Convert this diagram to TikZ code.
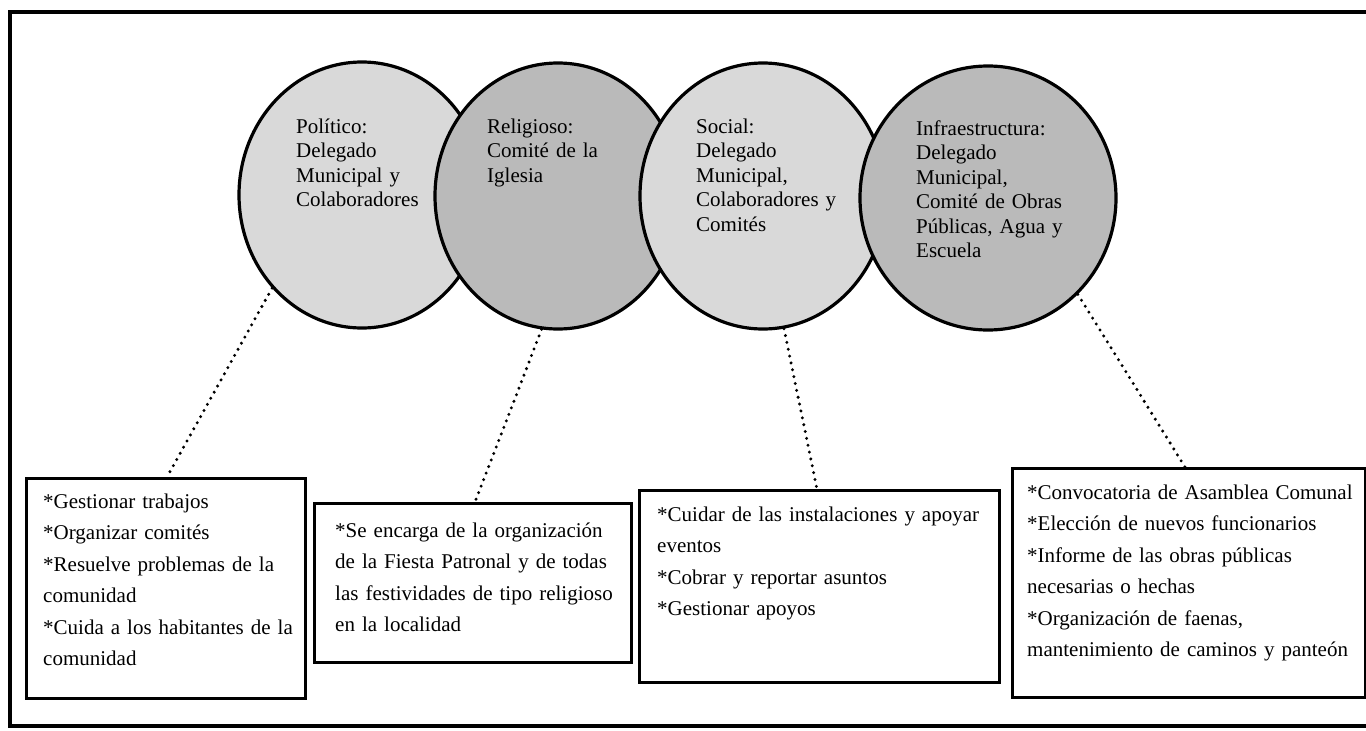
\documentclass[tikz,border=0pt]{standalone}
\usepackage{fontspec}
\setmainfont{Liberation Serif}
\usetikzlibrary{shapes.geometric,calc}
\definecolor{lightg}{gray}{0.85}
\definecolor{darkg}{gray}{0.73}
\tikzset{
  circ/.style={ellipse, draw=black, line width=3.2pt, minimum width=246pt, minimum height=266pt, inner sep=0pt},
  ctext/.style={anchor=base west, align=left, text width=220pt, inner sep=0pt, font=\fontsize{21}{24.5}\selectfont},
  boxs/.style={rectangle, draw=black, line width=2.8pt, anchor=north west, inner sep=0pt},
  btext/.style={anchor=base west, align=left, text width=360pt, inner sep=0pt, font=\fontsize{21}{31.5}\selectfont},
  dotline/.style={line width=3.3pt, line cap=round, dash pattern=on 0pt off 7pt},
  frame/.style={line width=3.2pt}
}
\begin{document}
\begin{tikzpicture}[x=1pt,y=-1pt]
\useasboundingbox (0,0) rectangle (1366,731);
\fill[white] (0,0) rectangle (1366,731);
\draw[frame] (10,12) rectangle (1380,726);
% circles
\node[circ, fill=lightg] (c1) at (362,195) {};
\node[circ, fill=darkg] (c2) at (558,196) {};
\node[circ, fill=lightg] (c3) at (763,196) {};
\node[circ, fill=darkg, minimum width=256pt, minimum height=264pt] (c4) at (988,198) {};
% circle texts
\node[ctext] (t1) at (296,133) {Político:\\Delegado\\Municipal y\\Colaboradores};
\node[ctext] (t2) at (487,133) {Religioso:\\Comité de la\\Iglesia};
\node[ctext] (t3) at (696,133) {Social:\\Delegado\\Municipal,\\Colaboradores y\\Comités};
\node[ctext] (t4) at (916,135) {Infraestructura:\\Delegado\\Municipal,\\Comité de Obras\\Públicas, Agua y\\Escuela};
% boxes
\node[boxs, minimum width=279pt, minimum height=220pt] (b1) at (25,477) {};
\node[boxs, minimum width=317pt, minimum height=159pt] (b2) at (313,502) {};
\node[boxs, minimum width=360pt, minimum height=192pt] (b3) at (638,489) {};
\node[boxs, minimum width=353pt, minimum height=229pt] (b4) at (1011,467) {};
% box texts
\node[btext] (bt1) at (43,508) {*Gestionar trabajos\\{}*Organizar comités\\{}*Resuelve problemas de la\\comunidad\\{}*Cuida a los habitantes de la\\comunidad};
\node[btext] (bt2) at (335,537) {*Se encarga de la organización\\de la Fiesta Patronal y de todas\\las festividades de tipo religioso\\en la localidad};
\node[btext] (bt3) at (657,521) {*Cuidar de las instalaciones y apoyar\\eventos\\{}*Cobrar y reportar asuntos\\{}*Gestionar apoyos};
\node[btext] (bt4) at (1027,499) {*Convocatoria de Asamblea Comunal\\{}*Elección de nuevos funcionarios\\{}*Informe de las obras públicas\\necesarias o hechas\\{}*Organización de faenas,\\mantenimiento de caminos y panteón};
% connectors
\draw[dotline] (c1.226.5) -- ($(b1.north west)+(142,0)$);
\draw[dotline] (c2.263) -- ($(b2.north west)+(162,0)$);
\draw[dotline] (c3.279.6) -- ($(b3.north west)+(179,0)$);
\draw[dotline] (c4.313.8) -- ($(b4.north west)+(174,0)$);
\end{tikzpicture}
\end{document}
